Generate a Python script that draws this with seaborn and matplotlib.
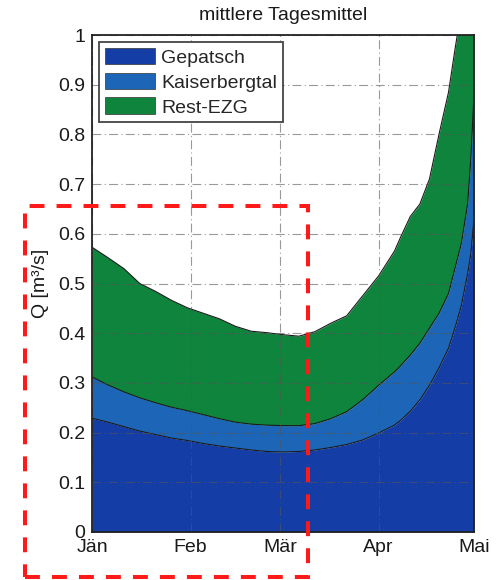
import numpy as np
import pandas as pd
import matplotlib
matplotlib.use("Agg")
import matplotlib.pyplot as plt
from matplotlib.patches import Patch, Rectangle
import seaborn as sns

# ---- data ----
days = [0, 5, 10, 15, 20, 25, 30, 35, 40, 45, 50, 55, 60, 65, 70, 75, 80, 85, 90,
        95, 97, 100, 103, 106, 109, 112, 114, 116, 118, 119, 120]
gepatsch = [0.229, 0.221, 0.212, 0.203, 0.196, 0.189, 0.184, 0.178, 0.173, 0.169, 0.165,
            0.162, 0.161, 0.162, 0.165, 0.170, 0.176, 0.185, 0.199, 0.215, 0.225, 0.243,
            0.266, 0.295, 0.330, 0.370, 0.410, 0.455, 0.520, 0.560, 0.630]
kaiserbergtal = [0.083, 0.075, 0.070, 0.067, 0.064, 0.062, 0.060, 0.058, 0.055, 0.052,
                 0.052, 0.053, 0.053, 0.052, 0.053, 0.058, 0.066, 0.081, 0.096, 0.107,
                 0.110, 0.113, 0.114, 0.115, 0.110, 0.110, 0.120, 0.125, 0.140, 0.190, 0.250]
rest_ezg = [0.261, 0.256, 0.248, 0.230, 0.224, 0.215, 0.207, 0.204, 0.201, 0.193, 0.187,
            0.186, 0.183, 0.180, 0.185, 0.192, 0.193, 0.209, 0.220, 0.243, 0.259, 0.279,
            0.280, 0.300, 0.360, 0.405, 0.440, 0.470, 0.460, 0.400, 0.300]
series_names = ["Gepatsch", "Kaiserbergtal", "Rest-EZG"]
month_ticks = [0, 31, 59, 90, 120]
month_labels = ["Jän", "Feb", "Mär", "Apr", "Mai"]
y_ticks = [0, 0.1, 0.2, 0.3, 0.4, 0.5, 0.6, 0.7, 0.8, 0.9, 1]
y_labels = ["0", "0.1", "0.2", "0.3", "0.4", "0.5", "0.6", "0.7", "0.8", "0.9", "1"]
title = "mittlere Tagesmittel"
ylabel = "Q [m³/s]"

colors = ["#143da6", "#1c65b7", "#0f843d"]

sns.set_theme(style="white")
plt.rcParams["font.family"] = ["Liberation Sans", "DejaVu Sans"]

df = pd.DataFrame({"day": days, series_names[0]: gepatsch,
                   series_names[1]: kaiserbergtal, series_names[2]: rest_ezg})
cum = df[series_names].cumsum(axis=1)

fig = plt.figure(figsize=(4.98, 5.80), dpi=100)
ax = fig.add_axes([92 / 498, 48 / 580, (474 - 92) / 498, (532 - 35) / 580])

lower = np.zeros(len(df))
for name, c in zip(series_names, colors):
    upper = cum[name].values
    ax.fill_between(df["day"], lower, upper, color=c, linewidth=0, zorder=1)
    sns.lineplot(x=df["day"], y=upper, color="#1a1a1a", linewidth=0.8, ax=ax, zorder=2)
    lower = upper

ax.set_xlim(0, 120)
ax.set_ylim(0, 1)
ax.set_xticks(month_ticks)
ax.set_xticklabels(month_labels)
ax.set_yticks(y_ticks)
ax.set_yticklabels(y_labels)
ax.tick_params(axis="both", direction="in", length=5, width=1, color="#1a1a1a",
               labelsize=14, labelcolor="#1a1a1a", pad=5)
ax.set_xlabel("")
ax.set_ylabel(ylabel, fontsize=14, color="#1a1a1a", labelpad=6)
ax.set_title(title, fontsize=14, color="#1a1a1a", pad=11)

ax.grid(True, color="#555555", linewidth=0.8, linestyle=(0, (8, 3, 1, 3)), alpha=0.6)
ax.set_axisbelow(False)
for s in ax.spines.values():
    s.set_visible(True)
    s.set_color("#222222")
    s.set_linewidth(1.3)
    s.set_zorder(5)

handles = [Patch(facecolor=c, edgecolor="#333333", linewidth=0.5, label=n)
           for n, c in zip(series_names, colors)]
leg = ax.legend(handles=handles, loc="upper left", fontsize=14, frameon=True,
                fancybox=False, edgecolor="#444444", framealpha=1,
                handlelength=2.6, handleheight=0.95, labelspacing=0.3,
                handletextpad=0.3, borderpad=0.3, borderaxespad=0.35)
leg.get_frame().set_linewidth(1.3)
leg.set_zorder(10)

# red dashed highlight box
rect = Rectangle((25 / 498, 3 / 580), (308 - 25) / 498, (577 - 206) / 580,
                 transform=fig.transFigure, fill=False, edgecolor="#ff1a1a",
                 linewidth=2.9, linestyle=(0, (3.7, 3.0)), zorder=20, clip_on=False)
fig.patches.append(rect)

fig.savefig("out.png", dpi=100)
